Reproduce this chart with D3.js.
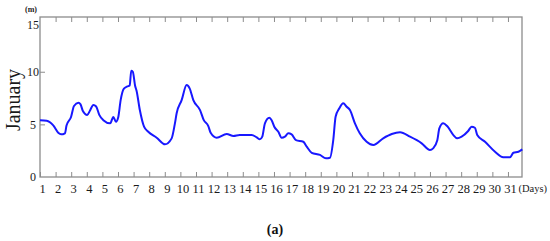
<!DOCTYPE html>
<html lang="en">
    <head>
        <meta charset="UTF-8">
        <title>January</title>
        <style>
            body { margin: 0; background: #fff; }
            text { font-family: "Liberation Serif", "DejaVu Serif", serif; }
        </style>
    </head>
    <script src="https://cdn.jsdelivr.net/npm/d3@7"></script>
    <body>
        <svg width="550" height="241"></svg>
    </body>

    <script>
        // day (decimal) and height in metres
        var days = [1.0, 1.43, 1.85, 2.17, 2.35, 2.6, 2.7, 2.99, 3.18, 3.46, 3.6, 3.74, 4.03, 4.2, 4.42, 4.6, 4.8, 5.06, 5.5, 5.7, 5.87, 6.02, 6.17, 6.38, 6.6, 6.75, 6.85, 6.95, 7.1, 7.19, 7.4, 7.67, 7.94, 8.48, 9.01, 9.44, 9.65, 9.76, 10.08, 10.4, 10.6, 10.83, 11.26, 11.5, 11.79, 11.94, 12.33, 12.97, 13.4, 13.8, 14.57, 14.89, 15.1, 15.25, 15.42, 15.7, 15.85, 16.02, 16.28, 16.49, 16.7, 16.92, 17.13, 17.41, 17.88, 18.1, 18.42, 18.95, 19.33, 19.59, 19.8, 19.95, 20.18, 20.44, 20.66, 20.87, 21.19, 21.5, 21.94, 22.37, 23.0, 23.55, 24.08, 24.72, 25.47, 26.0, 26.2, 26.47, 26.6, 26.85, 27.1, 27.49, 27.75, 28.03, 28.45, 28.67, 28.88, 29.03, 29.53, 30.17, 30.7, 31.13, 31.35, 31.67, 31.92];
        var heights = [5.4, 5.35, 4.9, 4.2, 4.05, 4.15, 4.9, 5.7, 6.75, 7.05, 6.9, 6.3, 5.9, 6.3, 6.85, 6.7, 5.9, 5.4, 5.1, 5.7, 5.25, 5.7, 7.3, 8.4, 8.6, 8.7, 10.1, 10.0, 8.65, 8.2, 6.36, 4.78, 4.3, 3.73, 3.1, 3.67, 5.1, 6.05, 7.3, 8.74, 8.4, 7.3, 6.36, 5.4, 4.84, 4.2, 3.73, 4.08, 3.9, 4.0, 4.0, 3.77, 3.58, 3.83, 5.1, 5.63, 5.4, 4.78, 4.3, 3.73, 3.83, 4.15, 4.05, 3.5, 3.35, 2.88, 2.3, 2.1, 1.77, 1.83, 3.5, 5.73, 6.5, 7.0, 6.68, 6.36, 5.1, 4.15, 3.35, 3.04, 3.67, 4.08, 4.24, 3.83, 3.2, 2.56, 2.72, 3.5, 4.62, 5.1, 4.84, 4.0, 3.67, 3.83, 4.37, 4.78, 4.68, 4.0, 3.35, 2.4, 1.87, 1.87, 2.3, 2.4, 2.63];

        var dayTicks = d3.range(1, 32);
        var yTicks = [0, 5, 10, 15];

        var svg = d3.select("svg");
        var grey = "#8c8c8c";

        var x = d3.scaleLinear().domain([1, 31.9]).range([40, 522]);
        var y = d3.scaleLinear().domain([0, 15.2]).range([177, 17]);

        // frame
        svg.append("rect")
            .attr("x", 40).attr("y", 17)
            .attr("width", 482).attr("height", 160)
            .attr("fill", "none")
            .attr("stroke", grey)
            .attr("stroke-width", 1.3);

        // bottom ticks + labels
        var bottomAxis = svg.append("g")
            .attr("transform", "translate(0,177)")
            .call(d3.axisBottom(x).tickValues(dayTicks).tickFormat(d3.format("d"))
                .tickSizeInner(-5).tickSizeOuter(0).tickPadding(7));
        bottomAxis.select(".domain").remove();
        bottomAxis.selectAll("line").attr("stroke", grey);
        bottomAxis.selectAll("text")
            .attr("dx", 2)
            .attr("font-size", 12.5)
            .attr("font-family", "Liberation Serif")
            .attr("fill", "#1a1a1a");

        // top ticks
        var topAxis = svg.append("g")
            .attr("transform", "translate(0,17)")
            .call(d3.axisTop(x).tickValues(dayTicks.slice(1)).tickFormat("")
                .tickSizeInner(-5).tickSizeOuter(0));
        topAxis.select(".domain").remove();
        topAxis.selectAll("line").attr("stroke", grey);

        // left ticks
        var leftAxis = svg.append("g")
            .attr("transform", "translate(40,0)")
            .call(d3.axisLeft(y).tickValues([5, 10]).tickFormat("")
                .tickSizeInner(-5).tickSizeOuter(0));
        leftAxis.select(".domain").remove();
        leftAxis.selectAll("line").attr("stroke", grey);

        svg.append("g").selectAll("text")
            .data(yTicks)
            .join("text")
            .attr("x", 33)
            .attr("y", function(d) { return d === 15 ? y(d) + 6 : y(d); })
            .attr("dy", "0.35em")
            .attr("text-anchor", "middle")
            .attr("font-size", 12)
            .attr("fill", "#1a1a1a")
            .text(function(d) { return d; });

        // curve
        var pts = days.map(function(d, i) { return [d, heights[i]]; });
        svg.append("path")
            .datum(pts)
            .attr("d", d3.line()
                .x(function(d) { return x(d[0]); })
                .y(function(d) { return y(d[1]); })
                .curve(d3.curveMonotoneX))
            .attr("fill", "none")
            .attr("stroke", "#1818ff")
            .attr("stroke-width", 2);

        // labels
        svg.append("text")
            .attr("x", 31).attr("y", 12)
            .attr("text-anchor", "middle")
            .attr("font-size", 8)
            .attr("font-weight", "bold")
            .attr("fill", "#222")
            .text("(m)");

        svg.append("text")
            .attr("transform", "translate(20,100) rotate(-90)")
            .attr("text-anchor", "middle")
            .attr("font-size", 20)
            .attr("fill", "#1a1a1a")
            .text("January");

        svg.append("text")
            .attr("x", 547).attr("y", 192)
            .attr("text-anchor", "end")
            .attr("font-size", 10.5)
            .attr("fill", "#1a1a1a")
            .text("(Days)");

        svg.append("text")
            .attr("x", 275).attr("y", 234)
            .attr("text-anchor", "middle")
            .attr("font-size", 14)
            .attr("font-weight", "bold")
            .attr("font-family", "Noto Sans")
            .attr("fill", "#111")
            .text("(a)");
    </script>
</html>
